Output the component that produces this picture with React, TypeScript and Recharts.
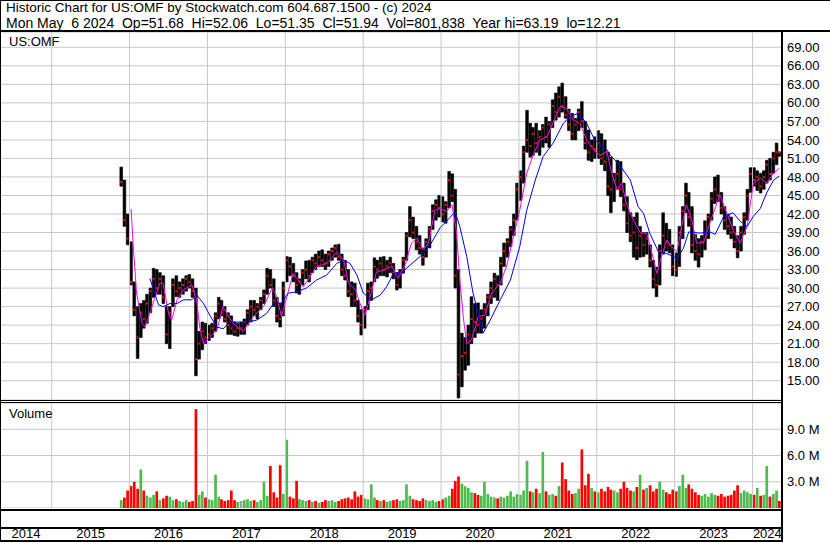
import React from 'react';
import { ComposedChart, Bar, Line, XAxis, YAxis, CartesianGrid, ReferenceLine, Cell } from 'recharts';

// [high, low, close, volume in millions] per half-month slot
type Row = [number, number, number, number];

const SLOTS = [
  '01-08', '01-23', '02-08', '02-23', '03-08', '03-23', '04-08', '04-23',
  '05-08', '05-23', '06-08', '06-23', '07-08', '07-23', '08-08', '08-23',
  '09-08', '09-23', '10-08', '10-23', '11-08', '11-23', '12-08', '12-23',
];

const y2015: Row[] = [
  [49.6, 46.5, 47.2, 0.9], [47.5, 40.0, 41.0, 1.2], [42.0, 37.0, 38.0, 2.0],
];
const y2016: Row[] = [
  [37.5, 30.5, 31.0, 2.5], [31.0, 25.5, 26.5, 3.0], [27.0, 18.6, 22.0, 2.2], [27.5, 22.0, 26.0, 4.4],
  [28.0, 23.5, 25.0, 2.0], [29.0, 24.3, 27.5, 1.4], [30.0, 26.0, 29.5, 1.2], [33.2, 28.5, 31.5, 1.5],
  [33.0, 29.0, 30.0, 1.9], [32.5, 29.0, 31.5, 0.9], [32.0, 27.5, 28.5, 1.1], [27.0, 21.0, 22.5, 1.4],
  [27.0, 20.2, 26.0, 1.3], [31.5, 27.0, 30.5, 0.9], [32.0, 28.6, 29.5, 1.0], [31.0, 28.5, 30.0, 0.8],
  [31.5, 29.0, 30.5, 0.7], [32.0, 29.5, 31.5, 0.9], [32.2, 30.0, 31.0, 0.7], [31.5, 28.5, 29.5, 0.8],
  [30.0, 15.8, 18.5, 11.3], [23.0, 18.5, 21.0, 1.5], [24.5, 20.0, 23.0, 1.9], [24.3, 21.0, 22.0, 1.2],
];
const y2017: Row[] = [
  [24.0, 21.5, 22.5, 1.0], [24.3, 22.0, 23.5, 0.9], [26.0, 23.0, 25.5, 3.8], [28.5, 25.0, 27.5, 1.3],
  [28.0, 25.5, 26.0, 1.0], [27.0, 24.5, 25.0, 0.8], [26.0, 22.5, 24.0, 0.9], [25.5, 22.5, 23.5, 2.0],
  [24.5, 22.3, 23.0, 0.9], [24.3, 22.2, 23.5, 0.7], [24.5, 22.5, 23.5, 0.8], [25.0, 22.5, 24.5, 0.9],
  [26.5, 24.0, 26.0, 1.0], [28.0, 24.5, 27.0, 0.8], [28.0, 25.5, 26.5, 0.9], [27.5, 25.0, 27.0, 0.7],
  [28.5, 26.5, 28.0, 0.9], [29.7, 27.5, 29.0, 3.0], [33.2, 29.0, 32.0, 1.4], [33.0, 30.0, 30.5, 4.8],
  [31.5, 27.0, 28.0, 1.8], [28.5, 24.5, 25.5, 1.2], [27.5, 23.7, 25.0, 4.9], [31.0, 25.5, 30.0, 1.6],
];
const y2018: Row[] = [
  [35.1, 31.0, 34.5, 7.8], [35.0, 32.0, 33.5, 1.3], [34.0, 31.0, 32.0, 1.1], [32.5, 29.2, 30.5, 3.1],
  [31.5, 29.0, 31.0, 1.0], [33.0, 30.5, 32.5, 0.9], [34.4, 31.5, 33.0, 0.8], [34.5, 31.0, 32.0, 0.9],
  [35.0, 32.5, 34.5, 0.7], [35.5, 33.0, 34.0, 0.8], [36.0, 33.5, 35.0, 0.6], [36.2, 33.5, 34.5, 0.7],
  [35.5, 33.0, 34.0, 0.9], [36.0, 33.5, 35.5, 0.8], [36.5, 34.5, 36.0, 0.9], [37.0, 35.0, 36.5, 0.7],
  [37.1, 34.5, 35.0, 0.8], [35.5, 32.0, 33.0, 1.0], [34.5, 31.3, 32.0, 1.1], [33.0, 28.6, 29.5, 1.2],
  [31.0, 27.0, 29.0, 1.0], [30.8, 27.0, 28.0, 1.9], [28.0, 24.5, 25.5, 1.3], [26.5, 22.4, 24.0, 1.5],
];
const y2019: Row[] = [
  [27.0, 23.5, 26.5, 1.1], [30.8, 26.5, 29.5, 1.0], [31.0, 28.0, 30.0, 2.7], [34.9, 31.0, 33.5, 1.2],
  [34.5, 31.6, 33.0, 0.9], [35.0, 32.0, 34.0, 0.8], [35.1, 32.0, 33.0, 0.9], [34.5, 31.8, 33.5, 0.7],
  [35.0, 32.5, 34.0, 0.8], [34.0, 31.5, 32.5, 0.9], [32.5, 29.7, 30.5, 1.0], [33.0, 30.0, 32.5, 0.8],
  [35.0, 32.4, 34.5, 0.9], [39.0, 34.5, 38.5, 2.7], [43.2, 38.3, 41.0, 1.4], [41.5, 38.0, 39.0, 1.0],
  [40.0, 36.2, 37.5, 0.9], [38.5, 35.5, 36.5, 0.8], [36.5, 33.7, 35.0, 1.1], [38.0, 35.0, 37.5, 0.9],
  [40.0, 36.5, 39.5, 0.8], [43.5, 39.5, 42.5, 0.9], [44.3, 41.0, 43.5, 0.7], [45.0, 41.5, 43.0, 0.8],
];
const y2020: Row[] = [
  [44.8, 40.7, 42.0, 1.0], [44.0, 40.5, 43.5, 1.2], [48.9, 43.0, 47.5, 1.4], [48.5, 44.0, 45.0, 2.2],
  [46.0, 30.0, 32.0, 3.1], [33.0, 12.2, 16.0, 3.6], [22.7, 14.0, 19.0, 2.8], [22.0, 16.7, 19.5, 2.5],
  [24.0, 17.5, 22.5, 2.3], [28.6, 21.0, 25.0, 1.8], [27.5, 22.0, 24.5, 1.7], [27.6, 22.7, 24.0, 1.5],
  [26.5, 22.7, 25.0, 1.4], [27.5, 23.5, 26.5, 3.0], [29.0, 25.5, 28.5, 1.6], [31.0, 27.5, 30.0, 1.3],
  [32.4, 28.5, 31.5, 1.2], [32.0, 28.0, 30.5, 1.1], [35.0, 30.5, 34.0, 1.3], [37.3, 33.5, 36.0, 1.2],
  [38.0, 35.0, 37.5, 1.4], [40.0, 36.7, 39.5, 1.9], [42.0, 38.5, 41.0, 1.3], [47.0, 41.0, 46.0, 1.6],
];
const y2021: Row[] = [
  [49.0, 44.2, 48.0, 1.5], [53.0, 47.0, 52.0, 2.0], [58.8, 52.0, 54.0, 5.4], [56.7, 51.2, 53.0, 1.9],
  [56.0, 51.5, 55.0, 1.8], [56.7, 52.0, 53.5, 2.2], [55.5, 51.5, 54.5, 1.7], [56.5, 52.8, 56.0, 6.4],
  [57.7, 53.5, 54.5, 1.9], [57.0, 52.8, 56.5, 1.5], [60.5, 56.0, 59.5, 1.6], [61.6, 57.2, 58.5, 1.4],
  [62.6, 57.7, 61.0, 2.5], [63.2, 58.5, 59.5, 5.2], [61.0, 57.5, 58.0, 3.3], [59.0, 55.5, 56.5, 2.0],
  [58.3, 54.0, 55.0, 1.6], [57.5, 54.0, 56.5, 1.7], [59.0, 55.5, 58.5, 2.2], [60.2, 56.0, 57.0, 6.7],
  [57.0, 52.5, 53.5, 2.6], [55.6, 50.7, 52.0, 3.9], [54.0, 50.5, 53.0, 2.3], [54.5, 51.0, 52.5, 1.9],
];
const y2022: Row[] = [
  [55.5, 51.0, 53.5, 1.8], [55.0, 50.0, 51.0, 2.2], [54.0, 49.0, 50.5, 1.9], [52.0, 45.0, 46.5, 2.4],
  [51.2, 42.2, 46.0, 2.1], [48.6, 44.0, 47.5, 2.0], [50.7, 46.0, 48.5, 1.8], [50.5, 44.8, 46.0, 2.2],
  [47.0, 42.5, 43.5, 3.0], [44.8, 39.0, 40.5, 2.3], [42.2, 37.5, 38.5, 2.0], [41.5, 35.0, 39.0, 1.9],
  [42.2, 34.6, 36.5, 2.4], [40.0, 35.0, 38.5, 3.8], [39.0, 35.1, 37.0, 2.1], [39.0, 35.5, 38.0, 2.3],
  [37.0, 33.4, 34.5, 2.6], [34.5, 30.0, 31.5, 1.9], [33.4, 28.6, 30.5, 2.2], [37.0, 30.5, 36.0, 3.0],
  [42.2, 35.5, 38.5, 2.1], [40.5, 36.0, 37.5, 1.8], [39.5, 35.7, 37.0, 1.6], [37.0, 32.0, 33.5, 2.1],
];
const y2023: Row[] = [
  [35.7, 31.9, 33.0, 1.9], [40.0, 33.5, 39.0, 2.5], [43.2, 38.0, 42.5, 3.8], [47.0, 42.2, 45.0, 2.3],
  [45.5, 40.0, 41.5, 2.7], [43.2, 35.7, 37.0, 2.2], [38.7, 34.5, 36.0, 1.8], [38.0, 33.4, 35.5, 1.5],
  [38.5, 35.0, 37.5, 1.4], [40.9, 36.2, 39.0, 1.6], [42.0, 38.0, 41.5, 1.3], [45.5, 41.0, 44.5, 1.7],
  [48.0, 43.7, 46.0, 1.5], [48.3, 44.0, 45.0, 1.4], [45.5, 42.0, 43.0, 1.6], [43.2, 39.5, 41.0, 1.3],
  [42.0, 38.7, 40.0, 1.4], [41.5, 38.0, 39.0, 1.5], [40.0, 36.5, 37.5, 2.0], [38.5, 34.9, 36.0, 2.6],
  [40.0, 36.0, 39.0, 1.7], [42.2, 38.7, 41.5, 2.0], [46.0, 41.0, 45.0, 1.8], [49.5, 45.5, 48.5, 1.6],
];
const y2024: Row[] = [
  [49.5, 46.5, 47.5, 1.5], [49.0, 45.8, 48.0, 2.3], [48.6, 45.4, 46.5, 1.4], [49.0, 46.0, 48.0, 1.5],
  [50.7, 47.0, 50.0, 4.8], [51.0, 47.5, 48.5, 1.3], [52.0, 48.6, 51.0, 1.6], [53.5, 50.0, 52.0, 2.0],
  [52.06, 51.35, 51.94, 0.8],
];

// moving averages: [decimal year, value]
const maFast: [number, number][] = [
  [2016.02, 42.8], [2016.05, 36.2], [2016.09, 29.2], [2016.16, 24.3], [2016.20, 23.7], [2016.26, 25.9],
  [2016.33, 28.6], [2016.39, 30.8], [2016.43, 30.8], [2016.50, 25.9], [2016.54, 24.8], [2016.61, 28.1],
  [2016.69, 29.7], [2016.80, 30.5], [2016.86, 28.1], [2016.90, 23.7], [2016.95, 21.0], [2017.03, 22.1],
  [2017.12, 23.2], [2017.20, 27.0], [2017.27, 25.4], [2017.33, 24.3], [2017.46, 23.0], [2017.59, 25.4],
  [2017.72, 27.0], [2017.83, 30.0], [2017.89, 28.6], [2017.95, 25.4], [2018.02, 28.6], [2018.10, 32.4],
  [2018.23, 30.2], [2018.32, 31.9], [2018.40, 33.5], [2018.53, 34.0], [2018.66, 35.8], [2018.75, 34.5],
  [2018.81, 30.8], [2018.90, 29.7], [2018.96, 27.5], [2019.02, 25.6], [2019.09, 28.6], [2019.17, 32.6],
  [2019.26, 32.9], [2019.37, 33.5], [2019.45, 31.6], [2019.54, 33.8], [2019.62, 37.3], [2019.69, 38.1],
  [2019.77, 36.2], [2019.84, 37.3], [2019.92, 42.6], [2019.99, 42.9], [2020.07, 42.4], [2020.14, 43.5],
  [2020.20, 38.9], [2020.24, 31.3], [2020.29, 24.8], [2020.33, 21.0], [2020.39, 21.6], [2020.48, 25.4],
  [2020.56, 25.6], [2020.65, 29.2], [2020.76, 30.8], [2020.84, 33.5], [2020.93, 38.3], [2021.01, 42.6],
  [2021.10, 48.6], [2021.19, 51.8], [2021.27, 54.0], [2021.36, 54.5], [2021.44, 56.9], [2021.53, 59.4],
  [2021.61, 59.1], [2021.70, 57.2], [2021.78, 56.7], [2021.87, 54.0], [2021.96, 52.4], [2022.04, 51.5],
  [2022.13, 52.1], [2022.19, 48.6], [2022.26, 45.9], [2022.32, 47.0], [2022.38, 43.7], [2022.47, 41.0],
  [2022.56, 38.9], [2022.64, 38.9], [2022.71, 35.6], [2022.77, 32.4], [2022.83, 35.1], [2022.90, 37.8],
  [2022.96, 36.7], [2023.03, 35.9], [2023.09, 40.0], [2023.15, 43.5], [2023.22, 41.0], [2023.28, 37.3],
  [2023.37, 37.3], [2023.45, 40.5], [2023.58, 45.1], [2023.67, 42.1], [2023.75, 39.4], [2023.84, 37.3],
  [2023.93, 40.0], [2024.01, 47.0], [2024.10, 47.8], [2024.18, 47.0], [2024.27, 48.6], [2024.34, 49.4],
];
const maSlow: [number, number][] = [
  [2016.26, 31.6], [2016.31, 29.7], [2016.37, 27.3], [2016.43, 27.0], [2016.52, 27.5], [2016.61, 27.5],
  [2016.69, 28.1], [2016.80, 28.1], [2016.86, 28.9], [2016.95, 27.5], [2017.03, 25.6], [2017.12, 23.7],
  [2017.20, 23.4], [2017.29, 24.5], [2017.42, 24.5], [2017.50, 24.5], [2017.63, 24.8], [2017.76, 25.9],
  [2017.85, 27.5], [2017.95, 27.6], [2018.04, 29.2], [2018.15, 29.4], [2018.27, 30.0], [2018.40, 31.3],
  [2018.53, 32.1], [2018.66, 34.0], [2018.75, 34.5], [2018.83, 34.0], [2018.92, 32.1], [2019.00, 29.2],
  [2019.11, 28.1], [2019.22, 28.9], [2019.30, 30.2], [2019.39, 32.4], [2019.50, 32.6], [2019.60, 33.7],
  [2019.73, 35.1], [2019.86, 37.0], [2019.99, 39.8], [2020.12, 41.5], [2020.18, 42.4], [2020.24, 40.0],
  [2020.33, 35.1], [2020.41, 29.2], [2020.50, 24.8], [2020.54, 22.7], [2020.63, 24.8], [2020.76, 28.1],
  [2020.89, 31.3], [2021.01, 36.7], [2021.10, 42.6], [2021.21, 47.5], [2021.31, 51.3], [2021.44, 53.5],
  [2021.57, 56.7], [2021.66, 57.8], [2021.76, 58.3], [2021.87, 56.7], [2021.96, 54.3], [2022.04, 53.2],
  [2022.13, 52.4], [2022.17, 51.6], [2022.30, 49.8], [2022.43, 47.5], [2022.53, 43.2], [2022.60, 42.1],
  [2022.68, 38.9], [2022.79, 35.9], [2022.90, 35.6], [2023.03, 34.8], [2023.11, 36.4], [2023.18, 39.1],
  [2023.33, 38.9], [2023.45, 39.1], [2023.52, 38.7], [2023.63, 41.6], [2023.75, 42.2], [2023.84, 40.8],
  [2023.93, 40.0], [2024.01, 41.6], [2024.10, 42.9], [2024.18, 45.4], [2024.27, 47.5], [2024.34, 48.1],
];

const priceTicks = [15, 18, 21, 24, 27, 30, 33, 36, 39, 42, 45, 48, 51, 54, 57, 60, 63, 66, 69];
const volumeTicks = [3, 6, 9];
const yearStarts = [2015, 2016, 2017, 2018, 2019, 2020, 2021, 2022, 2023, 2024];
const yearLabels = ['2014', '2015', '2016', '2017', '2018', '2019', '2020', '2021', '2022', '2023', '2024'];
const yearLabelAt = [2014.67, 2015.5, 2016.5, 2017.5, 2018.5, 2019.5, 2020.5, 2021.5, 2022.5, 2023.5, 2024.19];

const X_DOMAIN: [number, number] = [2014.336, 2024.378];
const PRICE_DOMAIN: [number, number] = [11.873, 71.478];
const GRID = '#c8c8c8';
const UP = '#4dbb4d';
const DOWN = '#ff0000';
const FLAT = '#a0a0a0';
const FONT = '"Liberation Sans", Arial, sans-serif';

const toYear = (d: string) => {
  const [y, m, dd] = d.split('-').map(Number);
  const start = Date.UTC(y, 0, 1);
  const end = Date.UTC(y + 1, 0, 1);
  return y + (Date.UTC(y, m - 1, dd) - start) / (end - start);
};

const blocks: [number, string[], Row[]][] = [
  [2015, SLOTS.slice(21), y2015],
  [2016, SLOTS, y2016],
  [2017, SLOTS, y2017],
  [2018, SLOTS, y2018],
  [2019, SLOTS, y2019],
  [2020, SLOTS, y2020],
  [2021, SLOTS, y2021],
  [2022, SLOTS, y2022],
  [2023, SLOTS, y2023],
  [2024, [...SLOTS.slice(0, 8), '05-06'], y2024],
];

// low is an invisible stacked base, span is the visible high-low bar
const rows = blocks.flatMap(([yr, slots, vals]) =>
  vals.map((v, i) => ({ t: toYear(`${yr}-${slots[i]}`), low: v[1], span: v[0] - v[1], close: v[2], vol: v[3] }))
);
const volColors = rows.map((r, i) => {
  if (i === 0) return UP;
  const prev = rows[i - 1].close;
  return r.close > prev ? UP : r.close < prev ? DOWN : FLAT;
});
const fastRows = maFast.map(([t, v]) => ({ t, v }));
const slowRows = maSlow.map(([t, v]) => ({ t, v }));

const CloseMark = (p: any) => {
  if (p.cx == null || p.cy == null) return <g key={`c-${p.index}`} />;
  return <rect key={`c-${p.index}`} x={p.cx - 1} y={p.cy - 1} width={2} height={2} fill={DOWN} />;
};

const YearTick = (p: any) => {
  const idx = yearLabelAt.indexOf(p.payload.value);
  return (
    <text x={p.x} y={p.y - 1} textAnchor="middle" fontSize={13} fill="#000" fontFamily={FONT}>
      {yearLabels[idx]}
    </text>
  );
};

const box = (left: number, top: number, width: number, height: number, key: string) => (
  <div key={key} style={{ position: 'absolute', left, top, width, height, background: '#000' }} />
);

export default function App() {
  const margin = { top: 0, right: 0, bottom: 0, left: 0 };
  const headStyle: React.CSSProperties = { position: 'absolute', left: 6, lineHeight: '14px', whiteSpace: 'pre' };
  return (
    <div style={{ position: 'absolute', left: 0, top: 0, width: 830, height: 543, background: '#fff', fontFamily: FONT, overflow: 'hidden' }}>
      <div style={{ ...headStyle, top: 1, fontSize: '13.5px' }}>
        Historic Chart for US:OMF by Stockwatch.com 604.687.1500 - (c) 2024
      </div>
      <div style={{ ...headStyle, top: 16, fontSize: '14px' }}>
        {'Mon May  6 2024  Op=51.68  Hi=52.06  Lo=51.35  Cl=51.94  Vol=801,838  Year hi=63.19  lo=12.21'}
      </div>

      <div style={{ position: 'absolute', left: 0, top: 32 }}>
        <ComposedChart width={830} height={368} data={rows} margin={margin}>
          <CartesianGrid stroke={GRID} vertical={false} />
          <XAxis dataKey="t" type="number" domain={X_DOMAIN} allowDataOverflow hide />
          <YAxis
            orientation="right"
            type="number"
            domain={PRICE_DOMAIN}
            allowDataOverflow
            ticks={priceTicks}
            interval={0}
            tickFormatter={(v: number) => v.toFixed(2)}
            width={48}
            axisLine={false}
            tickLine={false}
            tickSize={0}
            tickMargin={5}
            tick={{ fill: '#000', fontSize: 13, fontFamily: FONT }}
          />
          {yearStarts.map((y) => (
            <ReferenceLine key={y} x={y} stroke={GRID} />
          ))}
          <Bar dataKey="low" stackId="p" fill="transparent" barSize={2.7} isAnimationActive={false} />
          <Bar dataKey="span" stackId="p" fill="#000" stroke="#000" strokeWidth={0.6} barSize={2.7} isAnimationActive={false} />
          <Line dataKey="close" stroke="none" dot={CloseMark} activeDot={false} isAnimationActive={false} />
        </ComposedChart>
      </div>

      {/* moving averages in an overlay so their points do not narrow the bars */}
      <div style={{ position: 'absolute', left: 0, top: 32 }}>
        <ComposedChart width={830} height={368} data={fastRows} margin={{ top: 0, right: 48, bottom: 0, left: 0 }}>
          <XAxis dataKey="t" type="number" domain={X_DOMAIN} allowDataOverflow hide />
          <YAxis type="number" domain={PRICE_DOMAIN} allowDataOverflow hide />
          <Line data={fastRows} dataKey="v" stroke="#ff00ff" strokeWidth={1} dot={false} isAnimationActive={false} />
          <Line data={slowRows} dataKey="v" stroke="#0000ff" strokeWidth={1} dot={false} isAnimationActive={false} />
        </ComposedChart>
      </div>

      <div style={{ position: 'absolute', left: 0, top: 403 }}>
        <ComposedChart width={830} height={105} data={rows} margin={margin}>
          <CartesianGrid stroke={GRID} vertical={false} />
          <XAxis dataKey="t" type="number" domain={X_DOMAIN} allowDataOverflow hide />
          <YAxis
            orientation="right"
            type="number"
            domain={[0, 12]}
            allowDataOverflow
            ticks={volumeTicks}
            interval={0}
            tickFormatter={(v: number) => `${v.toFixed(1)} M`}
            width={48}
            axisLine={false}
            tickLine={false}
            tickSize={0}
            tickMargin={5}
            tick={{ fill: '#000', fontSize: 13, fontFamily: FONT }}
          />
          {yearStarts.map((y) => (
            <ReferenceLine key={y} x={y} stroke={GRID} />
          ))}
          <Bar dataKey="vol" barSize={2.7} isAnimationActive={false}>
            {rows.map((r, i) => (
              <Cell key={i} fill={volColors[i]} />
            ))}
          </Bar>
        </ComposedChart>
      </div>

      <div style={{ position: 'absolute', left: 0, top: 511 }}>
        <ComposedChart width={830} height={29} data={rows} margin={{ top: 0, right: 48, bottom: 0, left: 0 }}>
          <XAxis
            dataKey="t"
            type="number"
            domain={X_DOMAIN}
            allowDataOverflow
            ticks={yearLabelAt}
            interval={0}
            height={1}
            axisLine={false}
            tickLine={false}
            tickSize={0}
            tickMargin={0}
            tick={<YearTick />}
          />
          <YAxis hide domain={[0, 1]} />
          {yearStarts.map((y) => (
            <ReferenceLine key={y} x={y} stroke="#000" />
          ))}
        </ComposedChart>
      </div>

      <div style={{ position: 'absolute', left: 9, top: 34, fontSize: 13, lineHeight: '15px' }}>US:OMF</div>
      <div style={{ position: 'absolute', left: 9, top: 406, fontSize: 13, lineHeight: '15px' }}>Volume</div>

      {[
        box(0, 0, 830, 1, 'top'),
        box(0, 0, 1, 542, 'left'),
        box(0, 30, 830, 2, 'head'),
        box(0, 400, 782, 1, 'sep1'),
        box(0, 402, 782, 1, 'sep2'),
        box(0, 509, 783, 2, 'volBottom'),
        box(0, 527, 783, 2, 'rowMid'),
        box(0, 540, 783, 2, 'bottom'),
        box(781, 32, 2, 510, 'axis'),
      ]}
    </div>
  );
}
